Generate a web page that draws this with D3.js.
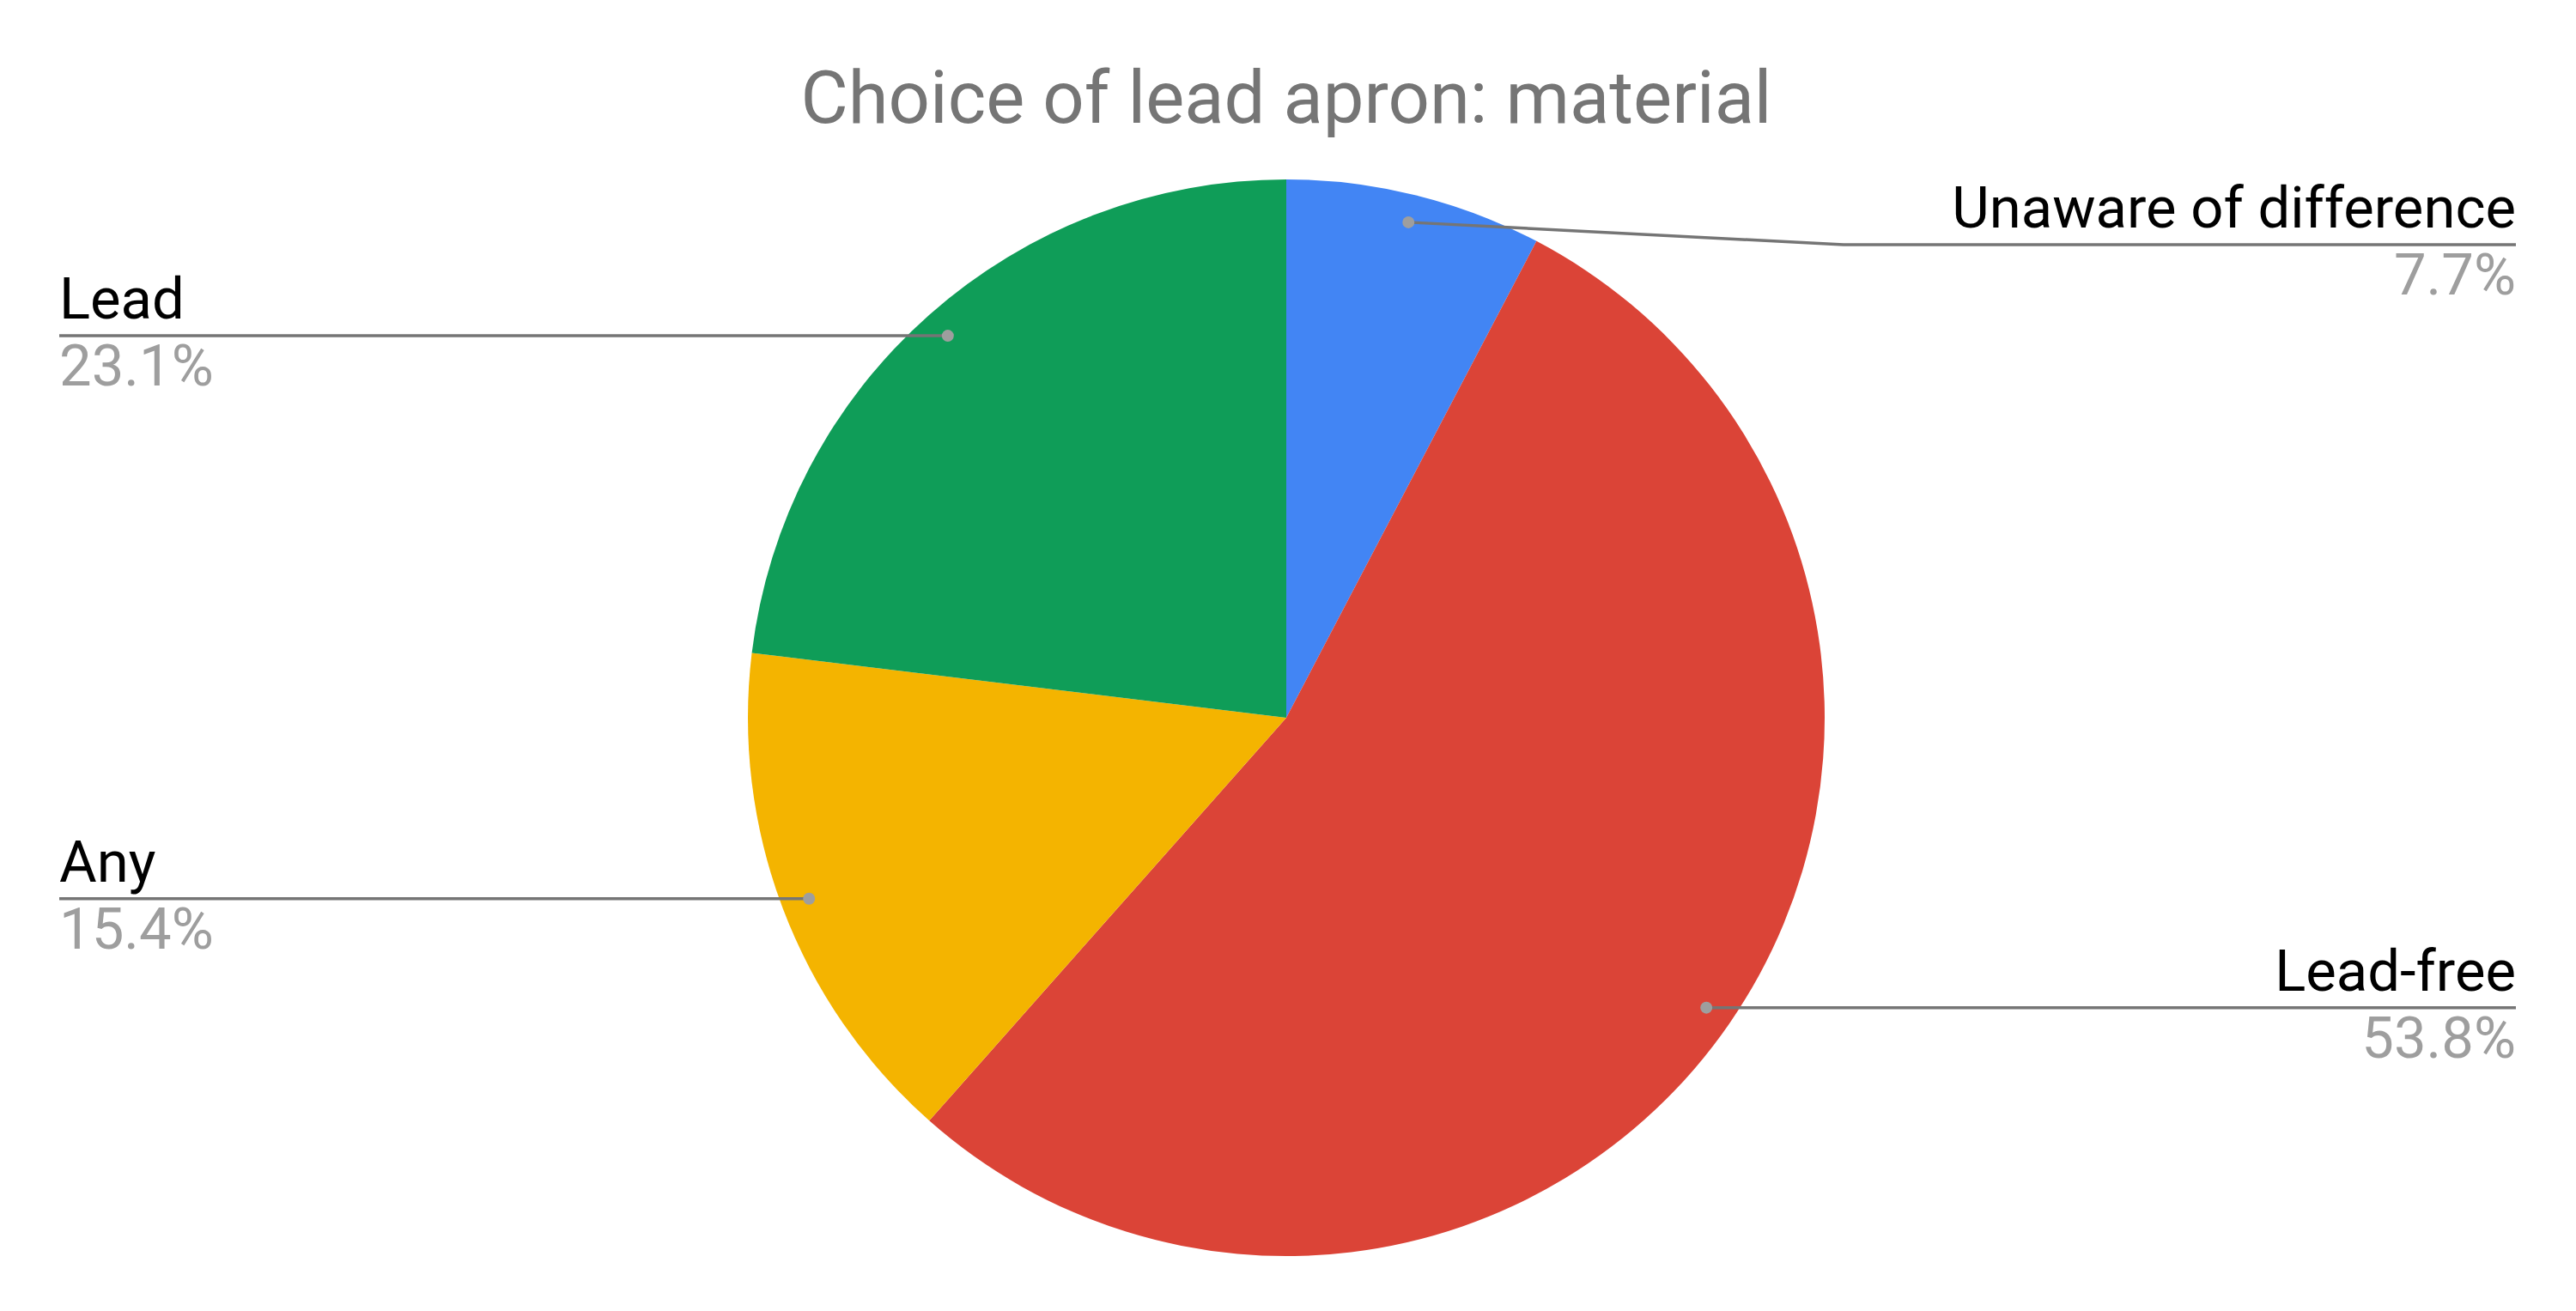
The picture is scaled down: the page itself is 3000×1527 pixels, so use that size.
<!DOCTYPE html>
<html lang="en">
  <head>
    <meta charset="UTF-8" />
    <title>Choice of lead apron: material</title>
    <script src="https://d3js.org/d3.v7.min.js"></script>
    <style>
      body {
        margin: 0;
        background: #ffffff;
      }
      text {
        font-family: Roboto, "Noto Sans", sans-serif;
      }
    </style>
  </head>
  <body>
    <div class="chart"></div>
  </body>

  <script>
    // data, clockwise from 12 o'clock
    var categories = ["Unaware of difference", "Lead-free", "Any", "Lead"];
    var counts = [1, 7, 2, 3];
    var percentLabels = ["7.7%", "53.8%", "15.4%", "23.1%"];
    var colors = ["#4285f4", "#db4437", "#f4b400", "#0f9d58"];

    var width = 3000;
    var height = 1527;
    var cx = 1498;
    var cy = 836;
    var radius = 627;

    var svg = d3
      .select(".chart")
      .append("svg")
      .attr("width", width)
      .attr("height", height);

    // title
    svg
      .append("text")
      .attr("x", cx)
      .attr("y", 143)
      .attr("text-anchor", "middle")
      .attr("font-size", 85)
      .attr("fill", "#757575")
      .text("Choice of lead apron: material");

    var pie = d3
      .pie()
      .sort(null)
      .value(function (d) {
        return d;
      });
    var arcs = pie(counts);

    var arc = d3.arc().innerRadius(0).outerRadius(radius);
    // where the leader dots sit
    var dotArc = d3
      .arc()
      .innerRadius(radius * 0.948)
      .outerRadius(radius * 0.948);

    var g = svg
      .append("g")
      .attr("transform", "translate(" + cx + "," + cy + ")");

    g.selectAll("path.slice")
      .data(arcs)
      .enter()
      .append("path")
      .attr("class", "slice")
      .attr("d", arc)
      .attr("fill", function (d, i) {
        return colors[i];
      });

    // labels with leader lines
    var leftX = 69;
    var rightX = 2930;
    var minLineY = 285;

    arcs.forEach(function (d, i) {
      var c = dotArc.centroid(d);
      var dx = cx + c[0];
      var dy = cy + c[1];
      var mid = (d.startAngle + d.endAngle) / 2;
      var right = mid < Math.PI;
      var lineY = Math.max(dy, minLineY);
      var elbowX = right ? cx + radius + 22 : cx - radius - 22;
      var endX = right ? rightX : leftX;

      var pts = [
        [dx, dy],
        [elbowX, lineY],
        [endX, lineY],
      ];
      if (lineY === dy) pts = [[dx, dy], [endX, lineY]];

      svg
        .append("path")
        .attr("d", d3.line()(pts))
        .attr("fill", "none")
        .attr("stroke", "#757575")
        .attr("stroke-width", 3.5);

      svg
        .append("circle")
        .attr("cx", dx)
        .attr("cy", dy)
        .attr("r", 7)
        .attr("fill", "#9e9e9e");

      svg
        .append("text")
        .attr("x", endX)
        .attr("y", lineY - 20)
        .attr("text-anchor", right ? "end" : "start")
        .attr("font-size", 67)
        .attr("fill", "#000000")
        .text(categories[i]);

      svg
        .append("text")
        .attr("x", endX)
        .attr("y", lineY + 58)
        .attr("text-anchor", right ? "end" : "start")
        .attr("font-size", 67)
        .attr("fill", "#9e9e9e")
        .text(percentLabels[i]);
    });
  </script>
</html>
